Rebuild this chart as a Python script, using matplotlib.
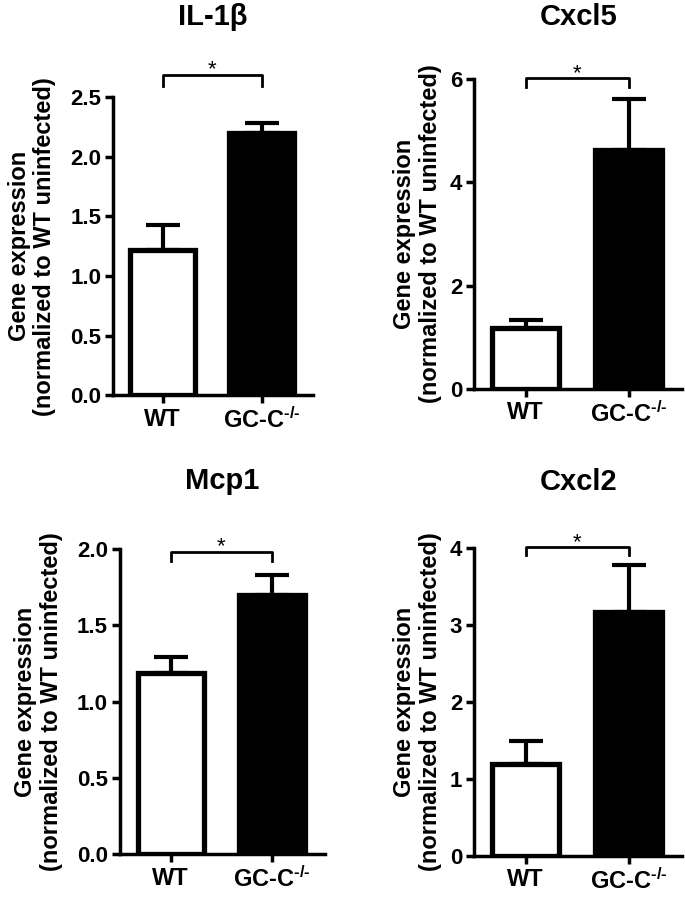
import matplotlib
matplotlib.use("Agg")
import matplotlib.pyplot as plt

plt.rcParams['font.family'] = ['Liberation Sans', 'DejaVu Sans']
plt.rcParams['font.weight'] = 'bold'
plt.rcParams['mathtext.fontset'] = 'custom'
plt.rcParams['mathtext.rm'] = 'Liberation Sans'
plt.rcParams['mathtext.it'] = 'Liberation Sans:italic'
plt.rcParams['mathtext.bf'] = 'Liberation Sans:bold'

# data
genes = ['IL-1β', 'Cxcl5', 'Mcp1', 'Cxcl2']
groups = ['WT', 'GC-C$^{\\text{-/-}}$']
wt_mean = [1.22, 1.18, 1.19, 1.19]
wt_sem = [0.21, 0.15, 0.10, 0.30]
ko_mean = [2.20, 4.62, 1.70, 3.17]
ko_sem = [0.08, 0.99, 0.13, 0.61]
ymax = [2.5, 6, 2.0, 4]
yticks = [[0.0, 0.5, 1.0, 1.5, 2.0, 2.5], [0, 2, 4, 6],
          [0.0, 0.5, 1.0, 1.5, 2.0], [0, 1, 2, 3, 4]]
ytick_fmt = ['{:.1f}', '{:.0f}', '{:.1f}', '{:.0f}']
bracket_y = [2.69, 6.02, 1.98, 4.01]
bracket_leg = [2.59, 5.84, 1.92, 3.91]

# axes boxes [left, bottom, width, height] in figure fraction
boxes = [[0.165, 0.561, 0.292, 0.331],
         [0.692, 0.568, 0.304, 0.344],
         [0.175, 0.051, 0.299, 0.339],
         [0.692, 0.049, 0.304, 0.342]]
title_y = [0.972, 0.972, 0.457, 0.455]
label_pad = [10, 6, 10, 6]

fig = plt.figure(figsize=(6.85, 9), dpi=100)

for i in range(4):
    ax = fig.add_axes(boxes[i])
    x = [0, 1]
    ax.bar(x, [wt_mean[i], ko_mean[i]], width=0.65, color=['white', 'black'],
           edgecolor='black', linewidth=3.8, zorder=3)
    ax.errorbar(x, [wt_mean[i], ko_mean[i]],
                yerr=[[0, 0], [wt_sem[i], ko_sem[i]]],
                fmt='none', ecolor='black', elinewidth=3, capsize=12,
                capthick=3, zorder=2, clip_on=False)
    # significance bracket
    ax.plot([0, 0, 1, 1], [bracket_leg[i], bracket_y[i], bracket_y[i], bracket_leg[i]],
            color='black', lw=2, clip_on=False)
    ax.annotate('*', (0.5, bracket_y[i]), xytext=(0, -4), textcoords='offset points',
                ha='center', va='bottom', fontsize=16, fontweight='normal',
                annotation_clip=False)

    ax.set_xlim(-0.5, 1.52)
    ax.set_ylim(0, ymax[i])
    ax.set_yticks(yticks[i])
    ax.set_yticklabels([ytick_fmt[i].format(v) for v in yticks[i]])
    ax.set_xticks(x)
    ax.set_xticklabels(groups)
    ax.tick_params(axis='both', width=2.5, length=6)
    ax.tick_params(axis='y', labelsize=16, pad=2.5)
    ax.tick_params(axis='x', labelsize=17, pad=3)
    for s in ['top', 'right']:
        ax.spines[s].set_visible(False)
    for s in ['left', 'bottom']:
        ax.spines[s].set_linewidth(2.5)
    ax.set_ylabel('Gene expression\n(normalized to WT uninfected)',
                  fontsize=17, fontweight='bold', labelpad=label_pad[i],
                  linespacing=1.15)
    pos = ax.get_position()
    fig.text(pos.x0 + pos.width / 2, title_y[i], genes[i], ha='center',
             va='baseline', fontsize=21, fontweight='bold')

fig.savefig('out.png', dpi=100)
